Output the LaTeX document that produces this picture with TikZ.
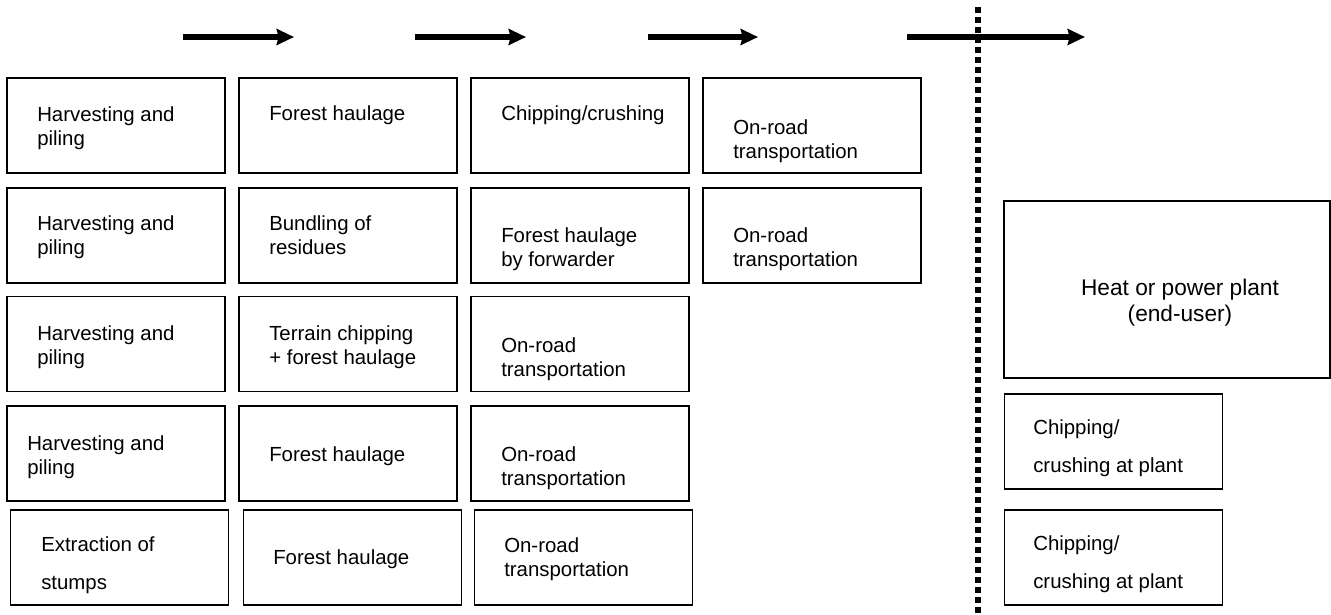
\documentclass[tikz,border=0pt]{standalone}
\usepackage{fontspec}
\setmainfont{Liberation Sans}
\usepackage{tikz}
\usetikzlibrary{arrows.meta,positioning}

\begin{document}
\begin{tikzpicture}[x=0.75pt,y=-0.75pt,
  >={Stealth[length=13pt,width=12pt,inset=1.5pt]},
  stage/.style={draw,line width=1pt,inner sep=0pt,minimum width=163.5pt,minimum height=71.25pt},
  lbl/.style={anchor=base west,align=left,inner sep=0pt,font=\fontsize{15.3}{18}\selectfont},
  flow/.style={->,line width=4.5pt}]
  \useasboundingbox (0,0) rectangle (1331,614);
  % process chain arrows
  \coordinate (a1s) at (183,37);  \coordinate (a1e) at (294,37);
  \coordinate (a2s) at (415,37);  \coordinate (a2e) at (526,37);
  \coordinate (a3s) at (648,37);  \coordinate (a3e) at (758,37);
  \coordinate (a4s) at (907,37);  \coordinate (a4e) at (1085,37);
  \foreach \i in {1,...,4} \draw[flow] (a\i s) -- (a\i e);
  % plant gate
  \coordinate (gtop) at (978,7);
  \coordinate (gbot) at (978,614);
  \draw[line width=4.5pt,dash pattern=on 4.5pt off 3pt] (gtop) -- (gbot);
  % chains
  \node[stage] (b11) at (116,125.5) {};
  \node[stage] (b12) at (348,125.5) {};
  \node[stage] (b13) at (580,125.5) {};
  \node[stage] (b14) at (812,125.5) {};
  \node[stage] (b21) at (116,235.5) {};
  \node[stage] (b22) at (348,235.5) {};
  \node[stage] (b23) at (580,235.5) {};
  \node[stage] (b24) at (812,235.5) {};
  \node[stage] (b31) at (116,344) {};
  \node[stage] (b32) at (348,344) {};
  \node[stage] (b33) at (580,344) {};
  \node[stage] (b41) at (116,453.5) {};
  \node[stage] (b42) at (348,453.5) {};
  \node[stage] (b43) at (580,453.5) {};
  \node[stage] (b51) at (119.5,557.5) {};
  \node[stage] (b52) at (352.5,557.5) {};
  \node[stage] (b53) at (583.5,557.5) {};
  \node[stage,minimum width=244.5pt,minimum height=132.75pt] (plant) at (1167,289.5) {};
  \node[stage] (crush1) at (1113.5,441.5) {};
  \node[stage] (crush2) at (1113.5,557.5) {};
  % texts (base = last line)
  \node[lbl] (t11) at (37,145) {Harvesting and\\piling};
  \node[lbl] (t12) at (269,120) {Forest haulage};
  \node[lbl] (t13) at (501,120) {Chipping/crushing};
  \node[lbl] (t14) at (733,158) {On-road\\transportation};
  \node[lbl] (t21) at (37,254) {Harvesting and\\piling};
  \node[lbl] (t22) at (269,254) {Bundling of\\residues};
  \node[lbl] (t23) at (501,266) {Forest haulage\\by forwarder};
  \node[lbl] (t24) at (733,266) {On-road\\transportation};
  \node[lbl] (t31) at (37,364) {Harvesting and\\piling};
  \node[lbl] (t32) at (269,364) {Terrain chipping\\+ forest haulage};
  \node[lbl] (t33) at (501,376) {On-road\\transportation};
  \node[lbl] (t41) at (27,474) {Harvesting and\\piling};
  \node[lbl] (t42) at (269,461) {Forest haulage};
  \node[lbl] (t43) at (501,485) {On-road\\transportation};
  \node[lbl] (t51) at (41,589) {Extraction of\\[10pt]stumps};
  \node[lbl] (t52) at (273,564) {Forest haulage};
  \node[lbl] (t53) at (504,576) {On-road\\transportation};
  \node[lbl,anchor=base,align=center,font=\fontsize{17}{19}\selectfont] (tplant) at (1180,321) {Heat or power plant\\(end-user)};
  \node[lbl] (tcrush1) at (1033,472) {Chipping/\\[10pt]crushing at plant};
  \node[lbl] (tcrush2) at (1033,588) {Chipping/\\[10pt]crushing at plant};
\end{tikzpicture}
\end{document}
